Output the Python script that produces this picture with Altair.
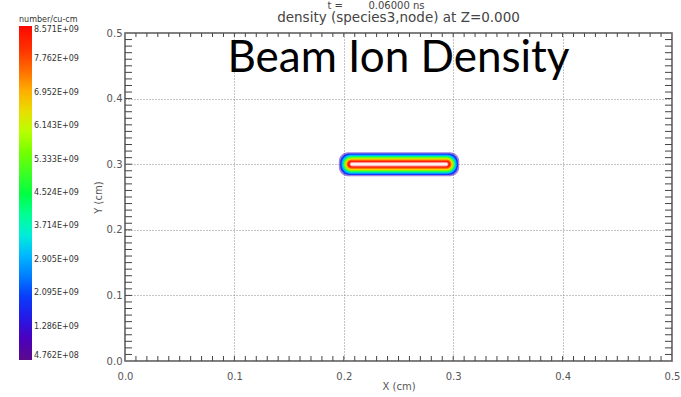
import altair as alt
import numpy as np
import pandas as pd

# colour-bar levels (number/cu-cm) and the colour-table stops at each level
level_values = [4.762e8, 1.286e9, 2.095e9, 2.905e9, 3.714e9, 4.524e9,
                5.333e9, 6.143e9, 6.952e9, 7.762e9, 8.571e9]
level_colors = ["#5a0a8c", "#2a00dc", "#0040ff", "#00aaff", "#00ffb4", "#00ff3c",
                "#50ff00", "#c8ff00", "#ffb400", "#ff3c00", "#ff0000"]

# nested filled-contour bands of the beam density, outermost first
band_value = [1.0e9, 2.0e9, 3.0e9, 4.2e9, 5.6e9, 6.6e9, 7.6e9, 8.5e9]
band_x0 = [0.1955, 0.1967, 0.1979, 0.1991, 0.2003, 0.2015, 0.2027, 0.2039]
band_x1 = [0.3055, 0.3043, 0.3031, 0.3019, 0.3007, 0.2995, 0.2983, 0.2971]
band_y0 = [0.2818, 0.2837, 0.2856, 0.2875, 0.2894, 0.2913, 0.2932, 0.2951]
band_y1 = [0.3182, 0.3163, 0.3144, 0.3125, 0.3106, 0.3087, 0.3068, 0.3049]

# saturated core above the top level
core_x0 = [0.2057]
core_x1 = [0.2953]
core_y0 = [0.2972]
core_y1 = [0.3028]

# axis ticks
major_ticks = [0.0, 0.1, 0.2, 0.3, 0.4, 0.5]
minor_ticks = [round(v, 2) for v in np.arange(0.01, 0.5, 0.01)]

# annotation
note_text = ["Beam Ion Density"]
note_x = [0.25]
note_y = [0.44]

W, H = 547, 328
GREY = "#555555"
FONT = "DejaVu Sans"
NBSP = "\u00a0"
TIME_LINE = "t =" + NBSP * 8 + "0.06000 ns"
FIELD_LINE = "density (species3,node) at Z=0.000"

bands = pd.DataFrame({"k": range(len(band_value)), "value": band_value,
                      "x0": band_x0, "x1": band_x1, "y0": band_y0, "y1": band_y1})
core = pd.DataFrame({"x0": core_x0, "x1": core_x1, "y0": core_y0, "y1": core_y1})
ticks = pd.DataFrame({"t": minor_ticks})
note = pd.DataFrame({"text": note_text, "x": note_x, "y": note_y})

xscale = alt.Scale(domain=[0, 0.5], nice=False, zero=False)
yscale = alt.Scale(domain=[0, 0.5], nice=False, zero=False)

x_axis = alt.Axis(values=major_ticks, format=".1f", tickSize=0, labelPadding=10,
                  labelFlush=False, grid=True, gridDash=[1, 2], gridColor="#8a8a8a",
                  domain=False, title="X (cm)", titlePadding=0)
y_axis = alt.Axis(values=major_ticks, format=".1f", tickSize=0, labelPadding=3,
                  labelFlush=False, grid=True, gridDash=[1, 2], gridColor="#8a8a8a",
                  domain=False, title="Y (cm)", titlePadding=3)


def xenc(field):
    return alt.X(f"{field}:Q", scale=xscale, axis=x_axis)


def yenc(field):
    return alt.Y(f"{field}:Q", scale=yscale, axis=y_axis)


label_expr = ("datum.value >= 1e9 ? format(datum.value / 1e9, '.3f') + 'E+09' "
              ": format(datum.value / 1e8, '.3f') + 'E+08'")

color = alt.Color(
    "value:Q",
    scale=alt.Scale(domain=level_values, range=level_colors),
    legend=alt.Legend(
        title="number/cu-cm", orient="none", legendX=-106, legendY=-17,
        direction="vertical", gradientLength=334, gradientThickness=13,
        gradientStrokeWidth=0, values=level_values, labelExpr=label_expr,
        labelFont=FONT, labelFontSize=8, labelColor="#333333",
        labelOffset=2, labelBaseline="middle", labelOverlap=False,
        titleFont=FONT, titleFontSize=8, titleFontWeight="normal",
        titleColor="#333333", titlePadding=2, padding=0,
    ),
)

base = alt.Chart(bands)

outer = base.transform_filter("datum.k == 0").mark_rect(
    cornerRadius=9, fillOpacity=0.5
).encode(x=xenc("x0"), x2="x1:Q", y=yenc("y0"), y2="y1:Q", color=color)

inner = base.transform_filter("datum.k > 0").mark_rect(cornerRadius=9).encode(
    x=xenc("x0"), x2="x1:Q", y=yenc("y0"), y2="y1:Q", color=color)

core_mark = alt.Chart(core).mark_rect(
    cornerRadius=3, fill="#fff0f0", stroke="#ff8a8a", strokeWidth=1
).encode(x=xenc("x0"), x2="x1:Q", y=yenc("y0"), y2="y1:Q")

tick_style = dict(color="#444444", strokeWidth=1)
tick_chart = alt.Chart(ticks)
bottom_ticks = tick_chart.mark_rule(**tick_style).encode(
    x=xenc("t"), y=alt.value(H), y2=alt.value(H - 5))
top_ticks = tick_chart.mark_rule(**tick_style).encode(
    x=xenc("t"), y=alt.value(0), y2=alt.value(4))
left_ticks = tick_chart.mark_rule(**tick_style).encode(
    y=yenc("t"), x=alt.value(0), x2=alt.value(7))
right_ticks = tick_chart.mark_rule(**tick_style).encode(
    y=yenc("t"), x=alt.value(W), x2=alt.value(W - 7))

label = alt.Chart(note).mark_text(
    font="Lato", fontSize=44, color="#000000", baseline="alphabetic", align="center"
).encode(x=xenc("x"), y=yenc("y"), text="text:N")

# first header line (simulation time), set a little left of the field line
time_line = alt.Chart(pd.DataFrame({"text": [TIME_LINE]})).mark_text(
    font=FONT, fontSize=10, color="#444444", align="center", baseline="middle"
).encode(x=alt.value(251), y=alt.value(-27), text="text:N")

title = alt.TitleParams(
    text=FIELD_LINE, font=FONT, fontSize=13.5, fontWeight="normal",
    color="#444444", anchor="middle", frame="group", offset=-23,
)

chart = alt.layer(
    outer, inner, core_mark, bottom_ticks, top_ticks, left_ticks, right_ticks,
    label, time_line,
).properties(
    width=W, height=H, title=title,
    padding={"left": 125, "top": 33, "right": 9, "bottom": 36},
    autosize=alt.AutoSizeParams(type="none"),
).configure_view(
    stroke=GREY, strokeWidth=1.5
).configure_axis(
    labelFont=FONT, labelFontSize=10, labelColor=GREY,
    titleFont=FONT, titleFontSize=10, titleFontWeight="normal", titleColor=GREY,
)

chart.save("out.html", embed_options={"renderer": "svg", "actions": False})
